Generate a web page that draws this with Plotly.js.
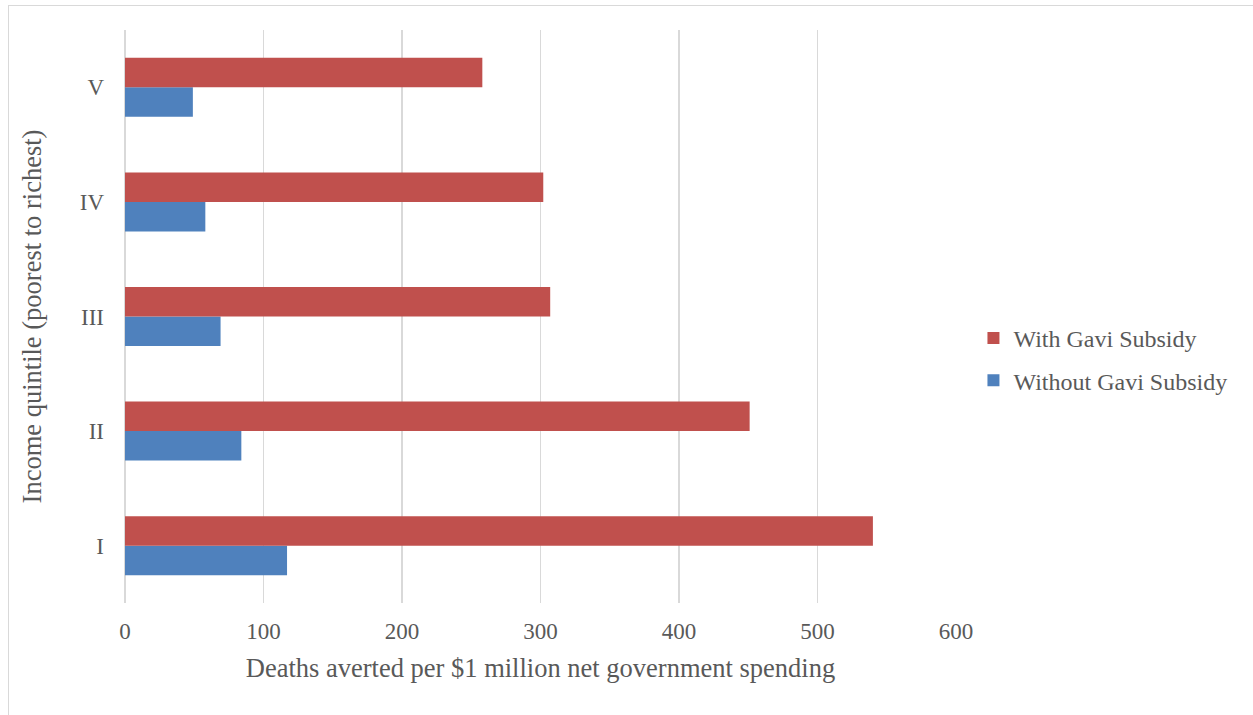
<!DOCTYPE html>
<html>
<head>
<meta charset="utf-8">
<script src="https://cdn.plot.ly/plotly-3.0.1.min.js"></script>
<style>
  html, body { margin: 0; padding: 0; background: #fff; }
  #wrap { position: relative; width: 1253px; height: 715px; overflow: hidden; }
  #chart { position: absolute; left: 0; top: 0; width: 1253px; height: 715px; }
  #frame { position: absolute; left: 8px; top: 5px; width: 1250px; height: 720px; border: 1px solid #d9d9d9; box-sizing: border-box; pointer-events: none; }
</style>
</head>
<body>
<div id="wrap">
  <div id="chart"></div>
  <div id="frame"></div>
</div>
<script>
const categories = ["I", "II", "III", "IV", "V"];
const withGavi = [540, 451, 307, 302, 258];
const withoutGavi = [117, 84, 69, 58, 49];
const seriesNames = ["With Gavi Subsidy", "Without Gavi Subsidy"];
const xTicks = [0, 100, 200, 300, 400, 500, 600];

const font = { family: "Liberation Serif, Times New Roman, serif", color: "#595959" };

const traces = [
  {
    type: "bar", orientation: "h", name: seriesNames[1], legendgroup: "b", legendrank: 2,
    y: categories, x: withoutGavi,
    marker: { color: "#4f81bd", line: { width: 0 } },
    hoverinfo: "x+name"
  },
  {
    type: "bar", orientation: "h", name: seriesNames[0], legendgroup: "a", legendrank: 1,
    y: categories, x: withGavi,
    marker: { color: "#c0504d", line: { width: 0 } },
    hoverinfo: "x+name"
  }
];

const layout = {
  width: 1253, height: 715,
  paper_bgcolor: "#fff", plot_bgcolor: "#fff",
  margin: { l: 125, r: 297, t: 30, b: 112 },
  barmode: "group",
  bargap: 0.485,
  bargroupgap: 0,
  font: Object.assign({ size: 23 }, font),
  xaxis: {
    range: [0, 600],
    tickvals: xTicks,
    ticktext: xTicks.map(String),
    showgrid: true, gridcolor: "#d9d9d9", gridwidth: 1.5,
    zeroline: true, zerolinecolor: "#d9d9d9", zerolinewidth: 1.5,
    showline: false, ticks: "",
    tickfont: Object.assign({ size: 23 }, font),
    ticklabelstandoff: 12,
    title: { text: "Deaths averted per $1 million net government spending", font: Object.assign({ size: 26.5 }, font), standoff: 15 }
  },
  yaxis: {
    categoryorder: "array", categoryarray: categories,
    showgrid: false, zeroline: false, showline: false, ticks: "",
    tickfont: Object.assign({ size: 23 }, font),
    ticklabelstandoff: 20,
    title: { text: "Income quintile (poorest to richest)", font: Object.assign({ size: 26.5 }, font), standoff: 30 }
  },
  legend: {
    x: 1.021, xanchor: "left", y: 0.425, yanchor: "middle",
    xref: "paper", traceorder: "grouped",
    font: Object.assign({ size: 24 }, font),
    itemwidth: 30, tracegroupgap: 8,
    bgcolor: "rgba(0,0,0,0)"
  },
  showlegend: true
};

Plotly.newPlot("chart", traces, layout, { displayModeBar: false, staticPlot: true });
</script>
</body>
</html>
